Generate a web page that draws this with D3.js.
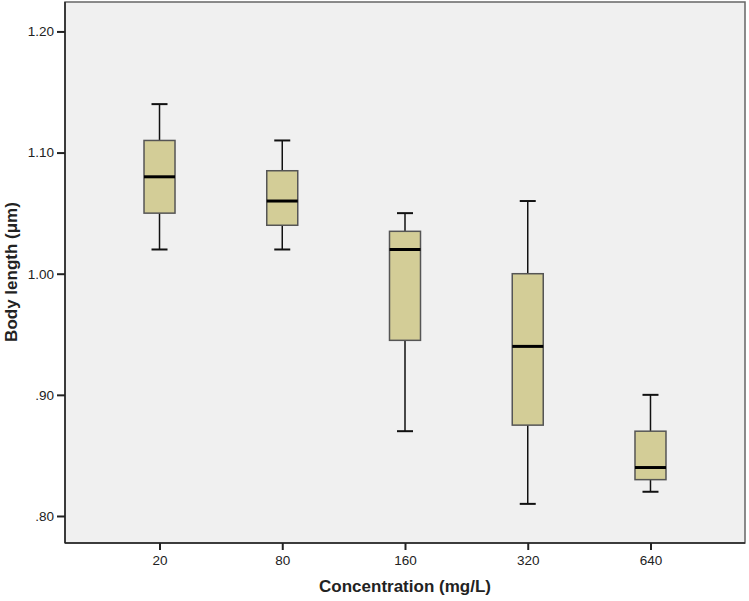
<!doctype html>
<html>
<head>
<meta charset="utf-8">
<style>
  body { margin: 0; background: #fff; }
  text { font-family: "Liberation Sans", Arial, sans-serif; fill: #222; }
  .tick text { font-size: 13px; }
  .title { font-size: 17px; font-weight: bold; }
</style>
<script src="https://cdn.jsdelivr.net/npm/d3@7"></script>
</head>
<body>
<svg id="chart" width="749" height="601"></svg>
<script>
// values
var categories = ["20", "80", "160", "320", "640"];
var whiskLow  = [1.02, 1.02, 0.87, 0.81, 0.82];
var q1        = [1.05, 1.04, 0.945, 0.875, 0.83];
var median    = [1.08, 1.06, 1.02, 0.94, 0.84];
var q3        = [1.11, 1.085, 1.035, 1.00, 0.87];
var whiskHigh = [1.14, 1.11, 1.05, 1.06, 0.90];
var yTicks = [0.80, 0.90, 1.00, 1.10, 1.20];

var svg = d3.select("#chart");
var plotL = 65, plotR = 745, plotT = 2, plotB = 543;

var x = d3.scalePoint().domain(categories).range([plotL, plotR]).padding(0.77);
var y = d3.scaleLinear().domain([0.7777, 1.2243]).range([plotB, plotT]);

// plot background
svg.append("rect")
  .attr("x", plotL).attr("y", plotT)
  .attr("width", plotR - plotL).attr("height", plotB - plotT)
  .attr("fill", "#f0f0f0")
  .attr("stroke", "#666").attr("stroke-width", 1.5);

var boxes = categories.map(function(c, i) {
  return { c: c, lo: whiskLow[i], q1: q1[i], md: median[i], q3: q3[i], hi: whiskHigh[i] };
});

var bw = 31, cap = 16;
var g = svg.selectAll("g.box").data(boxes).enter().append("g").attr("class", "box");

g.append("line")
  .attr("x1", function(d) { return x(d.c); }).attr("x2", function(d) { return x(d.c); })
  .attr("y1", function(d) { return y(d.hi); }).attr("y2", function(d) { return y(d.q3); })
  .attr("stroke", "#111").attr("stroke-width", 1.5);
g.append("line")
  .attr("x1", function(d) { return x(d.c); }).attr("x2", function(d) { return x(d.c); })
  .attr("y1", function(d) { return y(d.q1); }).attr("y2", function(d) { return y(d.lo); })
  .attr("stroke", "#111").attr("stroke-width", 1.5);
g.append("line")
  .attr("x1", function(d) { return x(d.c) - cap / 2; }).attr("x2", function(d) { return x(d.c) + cap / 2; })
  .attr("y1", function(d) { return y(d.hi); }).attr("y2", function(d) { return y(d.hi); })
  .attr("stroke", "#111").attr("stroke-width", 2);
g.append("line")
  .attr("x1", function(d) { return x(d.c) - cap / 2; }).attr("x2", function(d) { return x(d.c) + cap / 2; })
  .attr("y1", function(d) { return y(d.lo); }).attr("y2", function(d) { return y(d.lo); })
  .attr("stroke", "#111").attr("stroke-width", 2);
g.append("rect")
  .attr("x", function(d) { return x(d.c) - bw / 2; })
  .attr("y", function(d) { return y(d.q3); })
  .attr("width", bw)
  .attr("height", function(d) { return y(d.q1) - y(d.q3); })
  .attr("fill", "#d3cd97")
  .attr("stroke", "#555").attr("stroke-width", 1.5);
g.append("line")
  .attr("x1", function(d) { return x(d.c) - bw / 2; }).attr("x2", function(d) { return x(d.c) + bw / 2; })
  .attr("y1", function(d) { return y(d.md); }).attr("y2", function(d) { return y(d.md); })
  .attr("stroke", "#000").attr("stroke-width", 3);

// axes
var yAxis = svg.append("g")
  .attr("transform", "translate(" + plotL + ",0)")
  .call(d3.axisLeft(y).tickValues(yTicks).tickSize(8).tickPadding(3)
    .tickFormat(function(d) { return d3.format(".2f")(d).replace(/^0/, ""); }));
var xAxis = svg.append("g")
  .attr("transform", "translate(0," + plotB + ")")
  .call(d3.axisBottom(x).tickSize(7).tickPadding(5));

[yAxis, xAxis].forEach(function(a) {
  a.select(".domain").attr("stroke", "#222").attr("stroke-width", 1.5);
  a.selectAll(".tick line").attr("stroke", "#222").attr("stroke-width", 2);
  a.selectAll(".tick text").attr("fill", "#222").style("font-size", "13.5px");
});
yAxis.select(".domain").attr("d", "M0," + plotT + "V" + plotB);
xAxis.select(".domain").attr("d", "M" + plotL + ",0H" + plotR);

svg.append("text").attr("class", "title")
  .attr("x", 405).attr("y", 592)
  .attr("text-anchor", "middle")
  .text("Concentration (mg/L)");
svg.append("text").attr("class", "title")
  .attr("transform", "translate(17," + 272 + ") rotate(-90)")
  .attr("text-anchor", "middle")
  .text("Body length (μm)");
</script>
</body>
</html>
